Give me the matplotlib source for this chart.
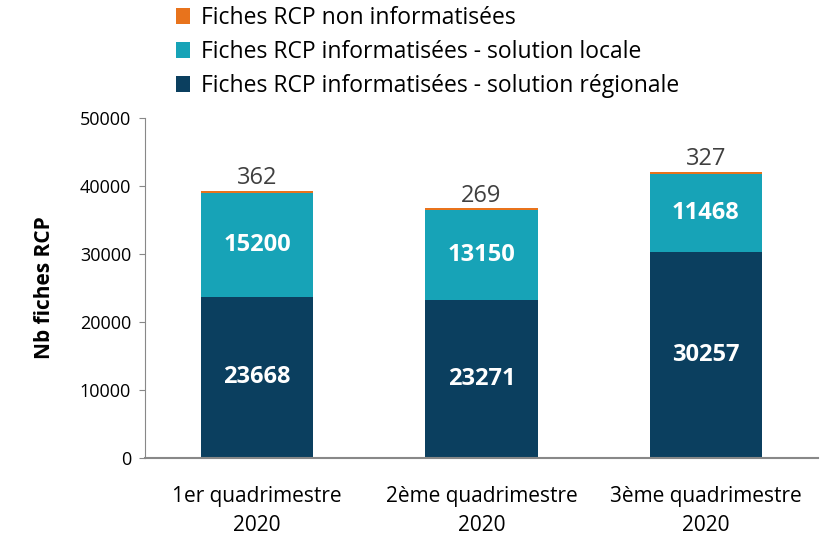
import matplotlib.pyplot as plt
import numpy as np

# --- Data ---------------------------------------------------------------
categories = ["1er quadrimestre\n2020", "2ème quadrimestre\n2020", "3ème quadrimestre\n2020"]
regionale = [23668, 23271, 30257]
locale = [15200, 13150, 11468]
non_info = [362, 269, 327]
series_names = [
    "Fiches RCP non informatisées",
    "Fiches RCP informatisées - solution locale",
    "Fiches RCP informatisées - solution régionale",
]
yticks = [0, 10000, 20000, 30000, 40000, 50000]

C_REG = "#0b3f5f"
C_LOC = "#17a3b7"
C_NON = "#e8731c"

plt.rcParams["font.family"] = ["Open Sans", "DejaVu Sans"]

fig = plt.figure(figsize=(8.33, 5.36), dpi=100)
ax = fig.add_axes([0.174, 0.1455, 0.808, 0.635])

x = np.arange(len(categories))
w = 0.5
reg = np.array(regionale)
loc = np.array(locale)
non = np.array(non_info)

b1 = ax.bar(x, reg, w, color=C_REG, label=series_names[2])
b2 = ax.bar(x, loc, w, bottom=reg, color=C_LOC, label=series_names[1])
b3 = ax.bar(x, non, w, bottom=reg + loc, color=C_NON, label=series_names[0])

# value labels: white inside the bars, grey above the stack
for i in x:
    ax.text(i, reg[i] / 2, str(reg[i]), ha="center", va="center",
            color="white", fontsize=17, fontweight="bold")
    ax.text(i, reg[i] + loc[i] / 2, str(loc[i]), ha="center", va="center",
            color="white", fontsize=17, fontweight="bold")
    ax.text(i, reg[i] + loc[i] + non[i] + 100, str(non[i]), ha="center", va="bottom",
            color="#404040", fontsize=17)

ax.set_xlim(-0.5, 2.5)
ax.set_ylim(0, 50000)
ax.set_yticks(yticks)
ax.set_yticklabels([str(t) for t in yticks], fontsize=13)
ax.set_xticks(x)
ax.set_xticklabels(categories, fontsize=15, linespacing=1.5)
ax.tick_params(axis="x", length=0, pad=20)
ax.tick_params(axis="y", length=4, color="#888888", pad=6)
ax.set_ylabel("Nb fiches RCP", fontsize=15, fontweight="bold", labelpad=18)

for s in ["top", "right"]:
    ax.spines[s].set_visible(False)
ax.spines["left"].set_color("#888888")
ax.spines["bottom"].set_color("#888888")
ax.spines["bottom"].set_linewidth(1.5)

handles = [b3, b2, b1]
fig.legend(handles, series_names, loc="upper left", bbox_to_anchor=(0.2, 1.005),
           frameon=False, fontsize=16.5, handlelength=0.6, handleheight=0.7,
           handletextpad=0.5, labelspacing=0.42, borderaxespad=0)

fig.savefig("out.png", dpi=100)
